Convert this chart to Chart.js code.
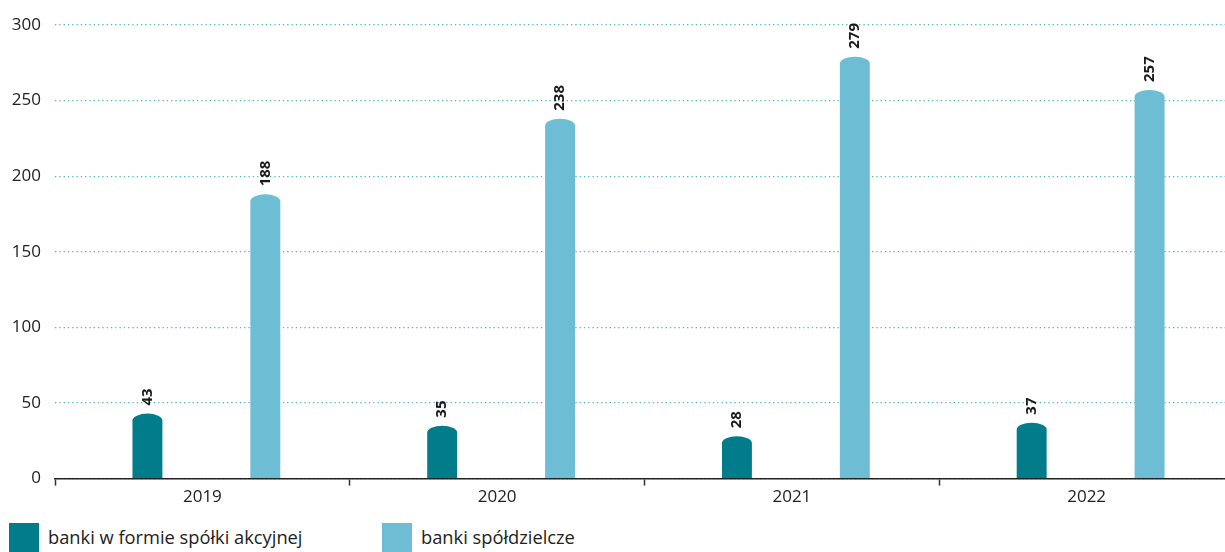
<!DOCTYPE html>
<html>
<head>
<meta charset="utf-8">
<script src="https://cdn.jsdelivr.net/npm/chart.js@4/dist/chart.umd.min.js"></script>
<style>
  html, body { margin: 0; padding: 0; background: #fff; overflow: hidden; width: 1225px; height: 552px; }
  #wrap { position: absolute; left: 0; top: 0; width: 1240px; height: 512px; }
  #legend { position: absolute; left: 0; top: 523px; font-family: "Open Sans", sans-serif; font-size: 18.3px; color: #222; }
  .item { position: absolute; top: 0; white-space: nowrap; }
  .box { position: absolute; top: 0; width: 30px; height: 30px; }
  .txt { position: absolute; top: 1px; line-height: 26px; }
</style>
</head>
<body>
<div id="wrap"><canvas id="c"></canvas></div>
<div id="legend"></div>
<script>
const categories = ["2019", "2020", "2021", "2022"];
const seriesNames = ["banki w formie spółki akcyjnej", "banki spółdzielcze"];
const spolkiAkcyjne = [43, 35, 28, 37];
const spoldzielcze = [188, 238, 279, 257];
const yTicks = [0, 50, 100, 150, 200, 250, 300];
const colors = ["#017c8a", "#6dbdd5"];

const FONT = '"Open Sans", sans-serif';

const roundTopBars = {
  id: 'roundTopBars',
  beforeDatasetDraw(chart, args) {
    const ctx = chart.ctx;
    const meta = args.meta;
    const shift = 4;
    ctx.save();
    ctx.fillStyle = chart.data.datasets[args.index].backgroundColor;
    meta.data.forEach(el => {
      const w = el.width, x = el.x + shift, top = el.y, base = el.base;
      const capH = 7;
      ctx.beginPath();
      ctx.moveTo(x - w / 2, base);
      ctx.lineTo(x - w / 2, top + capH);
      ctx.ellipse(x, top + capH, w / 2, capH, 0, Math.PI, 0);
      ctx.lineTo(x + w / 2, base);
      ctx.closePath();
      ctx.fill();
    });
    ctx.restore();
    return false;
  },
  afterDatasetsDraw(chart) {
    const ctx = chart.ctx;
    ctx.save();
    ctx.font = 'bold 15px ' + FONT;
    ctx.fillStyle = '#1a1a1a';
    ctx.textAlign = 'left';
    ctx.textBaseline = 'middle';
    chart.data.datasets.forEach((ds, di) => {
      const meta = chart.getDatasetMeta(di);
      meta.data.forEach((el, i) => {
        ctx.save();
        ctx.translate(el.x + 4, el.y - 8);
        ctx.rotate(-Math.PI / 2);
        ctx.fillText(String(ds.data[i]), 0, 0);
        ctx.restore();
      });
    });
    ctx.restore();
  }
};

new Chart(document.getElementById('c'), {
  type: 'bar',
  data: {
    labels: categories,
    datasets: [
      { label: seriesNames[0], data: spolkiAkcyjne, backgroundColor: colors[0] },
      { label: seriesNames[1], data: spoldzielcze, backgroundColor: colors[1] }
    ]
  },
  options: {
    responsive: true,
    maintainAspectRatio: false,
    animation: false,
    categoryPercentage: 0.8,
    barPercentage: 0.254,
    layout: { padding: { left: 10, top: 25, right: 6, bottom: 4 } },
    plugins: { legend: { display: false }, tooltip: { enabled: false } },
    scales: {
      x: {
        grid: { drawOnChartArea: false, drawTicks: true, tickLength: 7, color: '#333', tickWidth: 1.5, offset: true },
        border: { display: true, color: '#222', width: 1.5 },
        ticks: { padding: 1, color: '#222', font: { family: FONT, size: 17 } }
      },
      y: {
        min: 0, max: 300,
        afterBuildTicks(axis) { axis.ticks = yTicks.map(v => ({ value: v })); },
        afterFit(axis) { axis.width = 45; },
        grid: { drawTicks: false, color: '#55b3c1', lineWidth: 1.3 },
        border: { display: false, dash: [1.3, 3] },
        ticks: { padding: 14, color: '#222', font: { family: FONT, size: 17 } }
      }
    }
  },
  plugins: [roundTopBars]
});

const legend = document.getElementById('legend');
const legendX = [9, 382];
seriesNames.forEach((name, i) => {
  const it = document.createElement('div');
  it.className = 'item';
  it.style.left = legendX[i] + 'px';
  it.innerHTML = '<div class="box" style="background:' + colors[i] + '"></div><div class="txt" style="left:39px">' + name + '</div>';
  legend.appendChild(it);
});
</script>
</body>
</html>
